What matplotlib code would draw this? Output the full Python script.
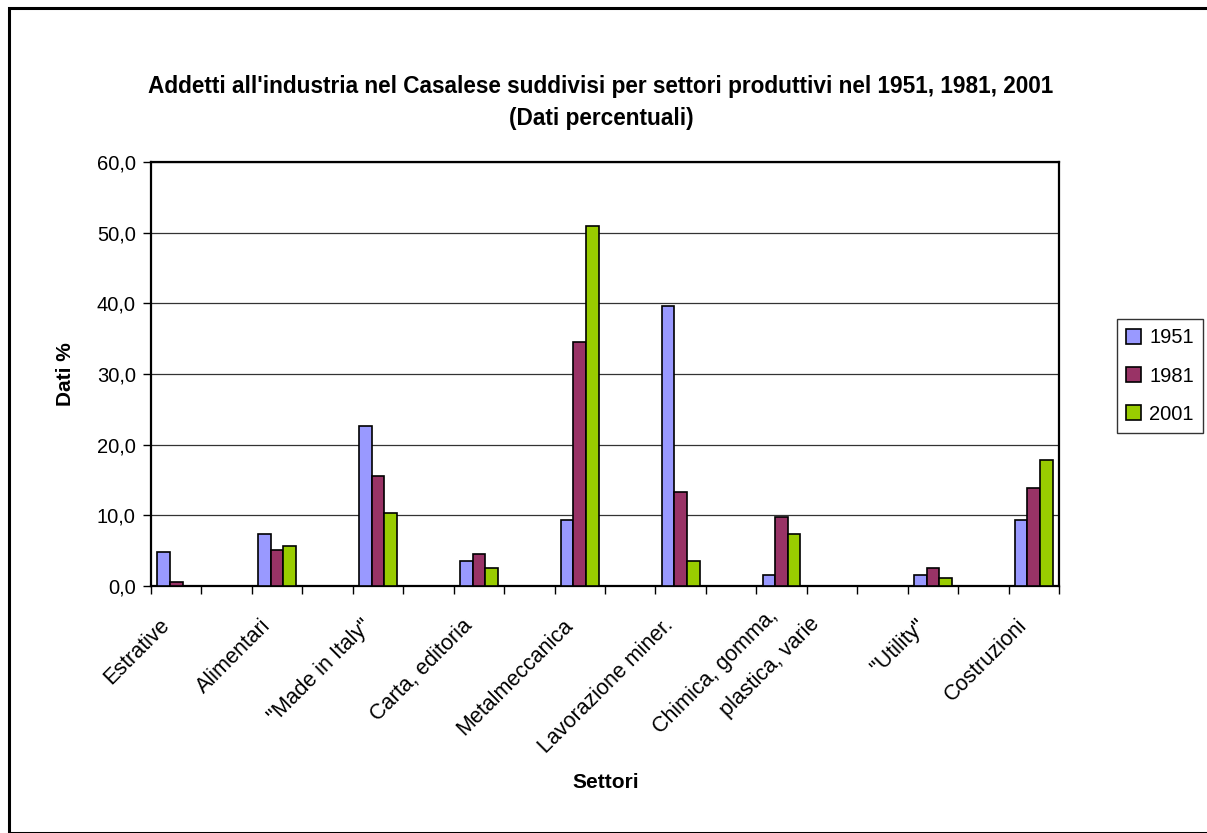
import matplotlib
matplotlib.use("Agg")
import numpy as np
import matplotlib.pyplot as plt
import matplotlib.transforms as mtrans
from matplotlib.patches import Rectangle
from matplotlib.ticker import FixedLocator, FuncFormatter

plt.rcParams["font.family"] = ["Liberation Sans", "DejaVu Sans"]

sectors = ["Estrative", "Alimentari", '"Made in Italy"', "Carta, editoria",
           "Metalmeccanica", "Lavorazione miner.", "Chimica, gomma,    \nplastica, varie",
           '"Utility"', "Costruzioni"]
years = ["1951", "1981", "2001"]
v1951 = [4.8, 7.3, 22.6, 3.6, 9.3, 39.6, 1.6, 1.6, 9.3]
v1981 = [0.5, 5.1, 15.6, 4.5, 34.5, 13.3, 9.7, 2.6, 13.8]
v2001 = [0.0, 5.7, 10.4, 2.5, 50.9, 3.6, 7.3, 1.1, 17.8]
colors = ["#9999FF", "#993366", "#99CC00"]

# the source sheet has blank rows between sectors -> 18 slots on the x axis
n_slots = 18
slots = np.array([0, 2, 4, 6, 8, 10, 12, 15, 17])

fig = plt.figure(figsize=(12.07, 8.33), dpi=100)
ax = fig.add_axes([151 / 1207, 1 - 586 / 833, (1059 - 151) / 1207, (586 - 162) / 833])

# outer chart frame
fig.patches.append(Rectangle((9 / 1207, 0), 1.0, 1 - 8 / 833, transform=fig.transFigure,
                             fill=False, edgecolor="black", linewidth=2.2))

w = 0.25
for i, (vals, c, lab) in enumerate(zip([v1951, v1981, v2001], colors, years)):
    ax.bar(slots + (i - 1) * w, vals, width=w, color=c, edgecolor="black",
           linewidth=1.2, label=lab, zorder=3)

ax.set_xlim(-0.5, n_slots - 0.5)
ax.set_ylim(0, 60)
ax.yaxis.set_major_locator(FixedLocator(np.arange(0, 61, 10)))
ax.yaxis.set_major_formatter(FuncFormatter(lambda v, p: f"{v:.1f}".replace(".", ",")))
ax.grid(axis="y", color="#333333", linewidth=0.9, zorder=0)

ax.set_xticks(np.arange(-0.5, n_slots, 1.0), minor=True)
ax.set_xticks(slots)
ax.set_xticklabels(sectors, rotation=45, ha="right", va="center", rotation_mode="anchor",
                   fontsize=15.5, multialignment="right", linespacing=1.9)
ax.tick_params(axis="x", which="major", length=0, pad=24)
ax.tick_params(axis="x", which="minor", length=6, width=1, direction="out")
ax.tick_params(axis="y", length=6, width=1, labelsize=14.5, pad=5)

# nudge labels like Excel does; the two-line one sits further right
for k, lbl in enumerate(ax.get_xticklabels()):
    dx = -10 if k != 6 else 22
    dy = -3 if k != 6 else 11
    lbl.set_transform(lbl.get_transform() + mtrans.ScaledTranslation(dx / 100, dy / 100, fig.dpi_scale_trans))

for s in ax.spines.values():
    s.set_linewidth(1.6)

ax.set_ylabel("Dati %", fontsize=15, fontweight="bold", labelpad=16)
fig.text(606 / 1207, 1 - 782 / 833, "Settori", fontsize=15, fontweight="bold",
         ha="center", va="center")
fig.text(601 / 1207, 1 - 103 / 833,
         "Addetti all'industria nel Casalese suddivisi per settori produttivi nel 1951, 1981, 2001\n(Dati percentuali)",
         fontsize=16.3, fontweight="bold", ha="center", va="center", linespacing=1.5)

leg = fig.legend(loc="center", bbox_to_anchor=(1160 / 1207, 1 - 376 / 833), fontsize=14.5,
                 frameon=True, fancybox=False, edgecolor="black", handlelength=0.75,
                 handleheight=0.75, handletextpad=0.4, labelspacing=0.95, borderpad=0.45,
                 borderaxespad=0)
leg.get_frame().set_linewidth(1.0)

fig.savefig("out.png", dpi=100)
